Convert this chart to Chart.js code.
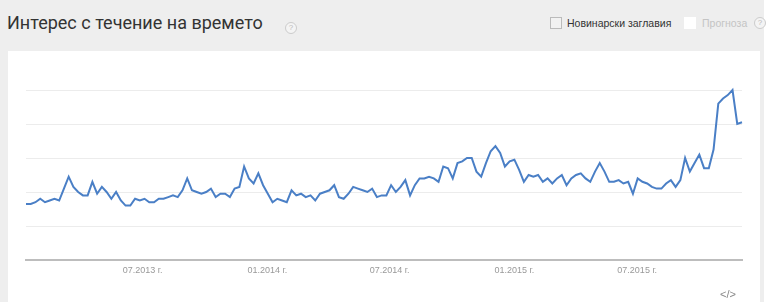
<!DOCTYPE html>
<html>
<head>
<meta charset="utf-8">
<script src="https://cdn.jsdelivr.net/npm/chart.js@4"></script>
<style>
  body { margin: 0; background: #fff; width: 768px; height: 302px; overflow: hidden; font-family: "Liberation Sans", Arial, sans-serif; }
  #bg { position: absolute; left: 0; top: 0; width: 764px; height: 302px; background: #eeeeee; }
  #panel { position: absolute; left: 8px; top: 51px; width: 752px; height: 251px; background: #fff; }
  #title { position: absolute; left: 7px; top: 12px; font-family: Roboto, sans-serif; font-size: 18px; color: #333; }
  .q { position: absolute; width: 10px; height: 10px; border: 1px solid #ccc; border-radius: 50%; font-size: 8px; line-height: 10px; text-align: center; color: #bbb; background: #f4f4f4; }
  .box { position: absolute; width: 10px; height: 10px; border: 1px solid #bbb; background: #f2f2f2; }
  .lbl { position: absolute; font-size: 10.5px; }
  #embed { position: absolute; left: 720px; top: 288px; font-size: 11px; color: #888; }
</style>
</head>
<body>
<div id="bg"></div>
<div id="title">Интерес с течение на времето</div>
<div class="q" style="left:285px;top:22px">?</div>
<div class="box" style="left:550px;top:17px"></div>
<div class="lbl" style="left:567px;top:17px;color:#333">Новинарски заглавия</div>
<div class="box" style="left:684px;top:17px;border-color:#fff;background:#fff"></div>
<div class="lbl" style="left:702px;top:17px;color:#c4c4c4">Прогноза</div>
<div class="q" style="left:754px;top:17px">?</div>
<div id="panel"><canvas id="chart" width="752" height="251"></canvas></div>
<div id="embed">&lt;/&gt;</div>
<script>
// weekly interest values, ~Jan 2013 .. Dec 2015
const interest = [
  33,33,34,36,34,35,36,35,42,49,43,40,38,38,46,39,43,40,36,40,35,32,32,36,35,
  36,34,34,36,36,37,38,37,41,48,41,40,39,40,42,37,39,39,37,42,43,55,48,45,51,
  44,39,34,36,35,34,41,38,39,37,38,35,39,40,41,44,37,36,39,43,42,41,40,42,37,
  38,38,44,40,43,47,38,44,48,48,49,48,46,55,54,48,57,58,60,60,52,49,57,64,67,
  63,55,58,59,53,46,50,49,50,46,48,45,48,50,44,48,50,51,48,46,52,57,52,46,46,
  47,45,46,39,48,46,45,43,42,42,45,47,43,47,60,52,57,62,54,54,65,92,95,97,100,
  80,81
];
// week index where each month label sits
const tickWeeks = [24.6, 50.9, 76.7, 103, 128.9];
const tickLabels = ['07.2013 г.', '01.2014 г.', '07.2014 г.', '01.2015 г.', '07.2015 г.'];

let points = interest.map(function (v, i) { return { x: i, y: v }; });

new Chart(document.getElementById('chart').getContext('2d'), {
  type: 'line',
  data: {
    datasets: [{
      data: points,
      borderColor: '#4a7fc6',
      borderWidth: 2,
      pointRadius: 0,
      tension: 0,
      clip: false
    }]
  },
  options: {
    responsive: false,
    animation: false,
    layout: { padding: { top: 39, right: 18, left: 0, bottom: 0 } },
    plugins: { legend: { display: false }, tooltip: { enabled: false } },
    scales: {
      x: {
        type: 'linear',
        min: 0,
        max: interest.length - 1,
        afterBuildTicks: function (s) { s.ticks = tickWeeks.map(function (w) { return { value: w }; }); },
        afterFit: function (s) { s.height = 42; },
        grid: { display: false, drawTicks: false },
        border: { display: true, color: '#bdbdbd', width: 2 },
        ticks: {
          autoSkip: false,
          maxRotation: 0,
          padding: 5,
          color: '#999',
          font: { family: 'Liberation Sans', size: 9 },
          callback: function (v) { return tickLabels[tickWeeks.indexOf(v)]; }
        }
      },
      y: {
        min: 0,
        max: 100,
        afterFit: function (s) { s.width = 18; },
        ticks: { display: false, stepSize: 20 },
        grid: { color: '#ececec', drawTicks: false },
        border: { display: false }
      }
    }
  }
});
</script>
</body>
</html>
